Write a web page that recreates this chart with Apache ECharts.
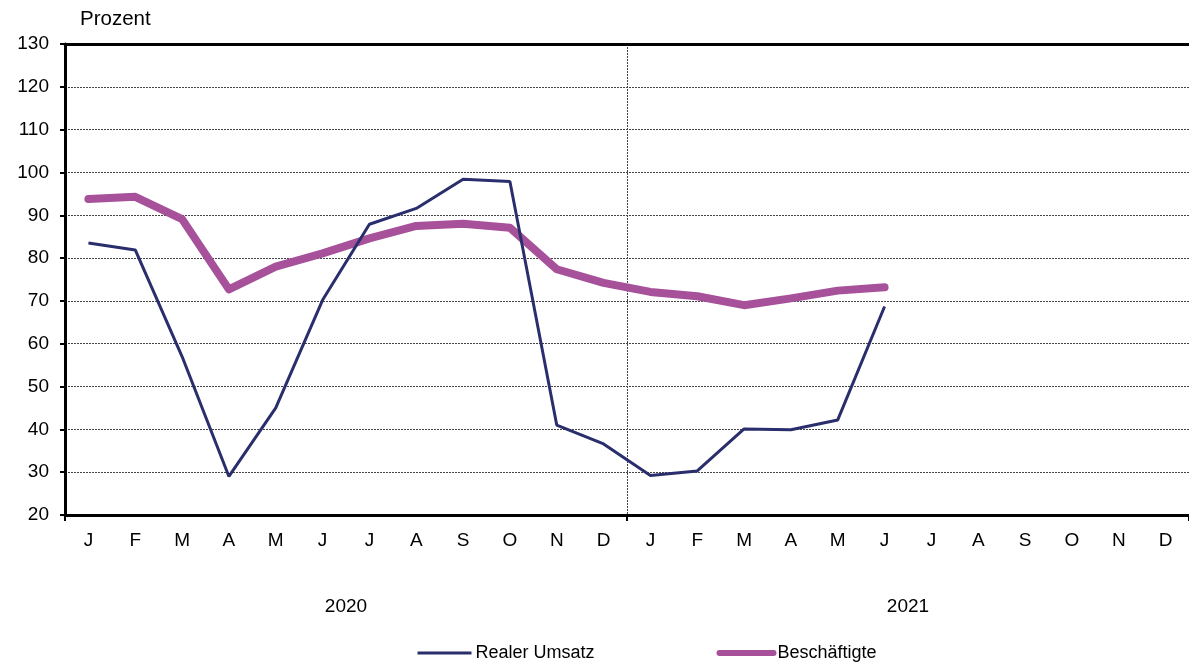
<!DOCTYPE html>
<html>
<head>
<meta charset="utf-8">
<script src="https://cdn.jsdelivr.net/npm/echarts@6/dist/echarts.min.js"></script>
<style>
  html, body { margin: 0; padding: 0; background: #fff; }
  #chart { width: 1189px; height: 663px; }
</style>
</head>
<body>
<div id="chart"></div>
<script>
// Monatskürzel, zwei Jahre
const months = ['J', 'F', 'M', 'A', 'M', 'J', 'J', 'A', 'S', 'O', 'N', 'D',
                'J', 'F', 'M', 'A', 'M', 'J', 'J', 'A', 'S', 'O', 'N', 'D'];
const years = ['2020', '2021'];
const umsatz = [83.5, 81.9, 57, 29, 45, 70.2, 87.9, 91.6, 98.4, 97.9, 41.0, 36.6,
                29.2, 30.3, 40.1, 39.9, 42.2, 68.7, null, null, null, null, null, null];
const beschaeftigte = [93.8, 94.3, 89.1, 72.7, 78.0, 81.1, 84.6, 87.5, 88.0, 87.1, 77.4, 74.2,
                       72.1, 71.1, 69.0, 70.6, 72.4, 73.2, null, null, null, null, null, null];

const font = 'Liberation Sans, Arial, sans-serif';
const navy = '#2a2e6c';
const violet = '#a6519a';

const chart = echarts.init(document.getElementById('chart'));
chart.setOption({
    animation: false,
    grid: { left: 65, right: 0, top: 44, bottom: 148 },
    graphic: [{
        type: 'text', left: 80, top: 9,
        style: { text: 'Prozent', font: '20.5px ' + font, fill: '#000' }
    }],
    legend: {
        top: 639, left: 411,
        itemWidth: 54, itemHeight: 14, itemGap: 122,
        textStyle: { fontFamily: font, fontSize: 18, color: '#000', padding: [0, 0, 0, -1] },
        itemStyle: { color: 'transparent', borderWidth: 0 },
        data: [
            { name: 'Realer Umsatz', lineStyle: { width: 3 } },
            { name: 'Beschäftigte', lineStyle: { width: 6, cap: 'round' } }
        ]
    },
    xAxis: [{
        type: 'category',
        data: months,
        axisLine: { lineStyle: { color: '#000', width: 3 } },
        axisTick: { show: true, length: 6, interval: (i) => i % 12 === 0, lineStyle: { color: '#000', width: 2 } },
        axisLabel: { interval: 0, margin: 16, fontFamily: font, fontSize: 19, color: '#000' },
        splitLine: { show: false }
    }, {
        type: 'category',
        data: years,
        position: 'bottom',
        offset: 74,
        axisLine: { show: false },
        axisTick: { show: false },
        axisLabel: { fontFamily: font, fontSize: 19, color: '#000' }
    }, {
        type: 'category',
        data: months,
        position: 'top',
        axisLine: { lineStyle: { color: '#000', width: 3 } },
        axisTick: { show: false },
        axisLabel: { show: false }
    }, {
        // nur für die Jahrestrennlinie
        type: 'value',
        min: 0, max: 24, interval: 12,
        position: 'top',
        axisLine: { show: false },
        axisTick: { show: false },
        axisLabel: { show: false },
        splitLine: { show: true, lineStyle: { color: '#444', type: [2, 1], width: 1 } }
    }],
    yAxis: {
        type: 'value',
        min: 20, max: 130, interval: 10,
        axisLine: { show: true, lineStyle: { color: '#000', width: 3 } },
        axisTick: { show: true, length: 5, lineStyle: { color: '#000', width: 2 } },
        axisLabel: { margin: 16, fontFamily: font, fontSize: 19, color: '#000' },
        splitLine: { lineStyle: { color: '#444', type: [2, 1], width: 1 } }
    },
    series: [{
        name: 'Realer Umsatz',
        type: 'line',
        data: umsatz,
        symbol: 'none',
        color: navy,
        lineStyle: { color: navy, width: 3 },
        z: 3
    }, {
        name: 'Beschäftigte',
        type: 'line',
        data: beschaeftigte,
        symbol: 'none',
        color: violet,
        lineStyle: { color: violet, width: 8, cap: 'round', join: 'round' },
        z: 2
    }]
});
</script>
</body>
</html>
